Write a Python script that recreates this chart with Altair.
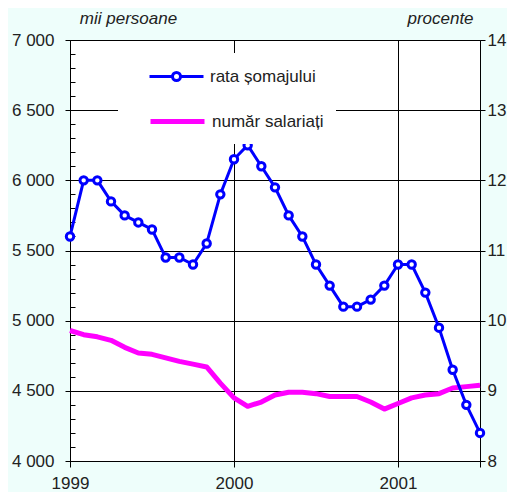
import altair as alt
import pandas as pd

months = ["1999-01", "1999-02", "1999-03", "1999-04", "1999-05", "1999-06",
          "1999-07", "1999-08", "1999-09", "1999-10", "1999-11", "1999-12",
          "2000-01", "2000-02", "2000-03", "2000-04", "2000-05", "2000-06",
          "2000-07", "2000-08", "2000-09", "2000-10", "2000-11", "2000-12",
          "2001-01", "2001-02", "2001-03", "2001-04", "2001-05", "2001-06",
          "2001-07"]
years = ["1999", "2000", "2001"]
rate = [11.2, 12.0, 12.0, 11.7, 11.5, 11.4, 11.3, 10.9, 10.9, 10.8, 11.1, 11.8,
        12.3, 12.5, 12.2, 11.9, 11.5, 11.2, 10.8, 10.5, 10.2, 10.2, 10.3, 10.5,
        10.8, 10.8, 10.4, 9.9, 9.3, 8.8, 8.4]
employees = [4930, 4900, 4885, 4860, 4810, 4770, 4760, 4735, 4710, 4690, 4670, 4555,
             4450, 4390, 4420, 4470, 4490, 4490, 4480, 4460, 4460, 4460, 4420, 4370,
             4410, 4450, 4470, 4480, 4520, 4530, 4540]
series_names = ["rata șomajului", "număr salariați"]

df = pd.DataFrame({
    "month": months,
    "idx": list(range(len(months))),
    "rate": rate,
    "emp": employees,
    "rate_series": series_names[0],
    "emp_series": series_names[1],
})

FONT = "Liberation Sans"
TXT = "#222222"
BLUE = "#0000FF"
MAGENTA = "#FF00FF"

year_ticks = [0, 12, 24, len(months) - 1]
x_label_expr = (f"datum.value == 0 ? '{years[0]}' : datum.value == 12 ? '{years[1]}' : "
                f"datum.value == 24 ? '{years[2]}' : ''")

x_enc = alt.X(
    "idx:Q",
    scale=alt.Scale(domain=[0, len(months) - 1], nice=False, zero=False),
    axis=alt.Axis(values=year_ticks, labelExpr=x_label_expr, grid=True,
                  gridColor="black", gridWidth=1, gridOpacity=1,
                  tickSize=6, tickColor="black", domainColor="black",
                  labelPadding=8, labelFontSize=17, labelFont=FONT,
                  labelColor=TXT, labelFlush=False, labelOverlap=False,
                  title=None),
)

PATH_A = ("M-2.7,0L-0.4,0M0.4,0L2.7,0M-0.4,0A0.4,0.4,0,1,0,0.4,0"
          "A0.4,0.4,0,1,0,-0.4,0Z")
PATH_B = "M-2.7,0L2.7,0"

emp_line = alt.Chart(df).mark_line(strokeWidth=5, strokeJoin="round").encode(
    x=x_enc,
    y=alt.Y("emp:Q",
            scale=alt.Scale(domain=[4000, 7000], nice=False, zero=False),
            axis=alt.Axis(values=list(range(4000, 7001, 500)),
                          labelExpr="replace(format(datum.value, ','), ',', ' ')",
                          grid=True, gridColor="black", gridWidth=1, gridOpacity=1,
                          tickSize=5, tickColor="black", domainColor="black",
                          labelPadding=11, labelFontSize=17, labelFont=FONT,
                          labelColor=TXT, labelFlush=False, orient="left",
                          title="mii persoane", titleAngle=0, titleX=58, titleY=-17,
                          titleAlign="center", titleBaseline="alphabetic",
                          titleFontStyle="italic", titleFontWeight="normal",
                          titleFontSize=17, titleFont=FONT, titleColor=TXT)),
    color=alt.Color("emp_series:N",
                    scale=alt.Scale(domain=[series_names[1]], range=[MAGENTA]),
                    legend=alt.Legend(orient="none", legendX=48, legendY=57,
                                      title=None, fillColor="white", padding=12,
                                      symbolType=PATH_B, symbolSize=400,
                                      symbolStrokeWidth=5, symbolOffset=35,
                                      labelOffset=22, labelFontSize=17,
                                      labelFont=FONT, labelColor=TXT,
                                      labelExpr="datum.label + '     '")),
)

minor = alt.Chart(df).mark_line(opacity=0).encode(
    x=x_enc,
    y=alt.Y("emp:Q",
            scale=alt.Scale(domain=[4000, 7000], nice=False, zero=False),
            axis=alt.Axis(values=list(range(4000, 7001, 100)), orient="left",
                          offset=-5, tickSize=5, tickColor="black",
                          labels=False, domain=False, grid=False, title=None)),
)

rate_line = alt.Chart(df).mark_line(
    strokeWidth=3,
    point=alt.OverlayMarkDef(filled=False, fill="white", size=55, strokeWidth=3),
).encode(
    x=x_enc,
    y=alt.Y("rate:Q",
            scale=alt.Scale(domain=[8, 14], nice=False, zero=False),
            axis=alt.Axis(values=list(range(8, 15)), orient="right",
                          grid=False, tickSize=5, tickColor="black",
                          domainColor="black", labelPadding=2, labelFlush=False,
                          labelFontSize=17, labelFont=FONT, labelColor=TXT,
                          title="procente", titleAngle=0, titleX=-40, titleY=-17,
                          titleAlign="center", titleBaseline="alphabetic",
                          titleFontStyle="italic", titleFontWeight="normal",
                          titleFontSize=17, titleFont=FONT, titleColor=TXT)),
    stroke=alt.Stroke("rate_series:N",
                      scale=alt.Scale(domain=[series_names[0]], range=[BLUE]),
                      legend=alt.Legend(orient="none", legendX=48, legendY=13,
                                        title=None, fillColor="white", padding=12,
                                        symbolType=PATH_A, symbolSize=400,
                                        symbolStrokeWidth=3, symbolOffset=35,
                                        labelOffset=22, labelFontSize=17,
                                        labelFont=FONT, labelColor=TXT,
                                        labelExpr="datum.label + '     '")),
)

chart = alt.layer(emp_line, minor, rate_line).resolve_scale(
    y="independent"
).properties(
    width=410,
    height=421,
    background="#EEFEFB",
    padding={"left": 62, "top": 32, "right": 27, "bottom": 31},
    autosize=alt.AutoSizeParams(type="none"),
).configure_view(fill="white", stroke=None)

chart.save("out.html", embed_options={"renderer": "svg", "actions": False})
